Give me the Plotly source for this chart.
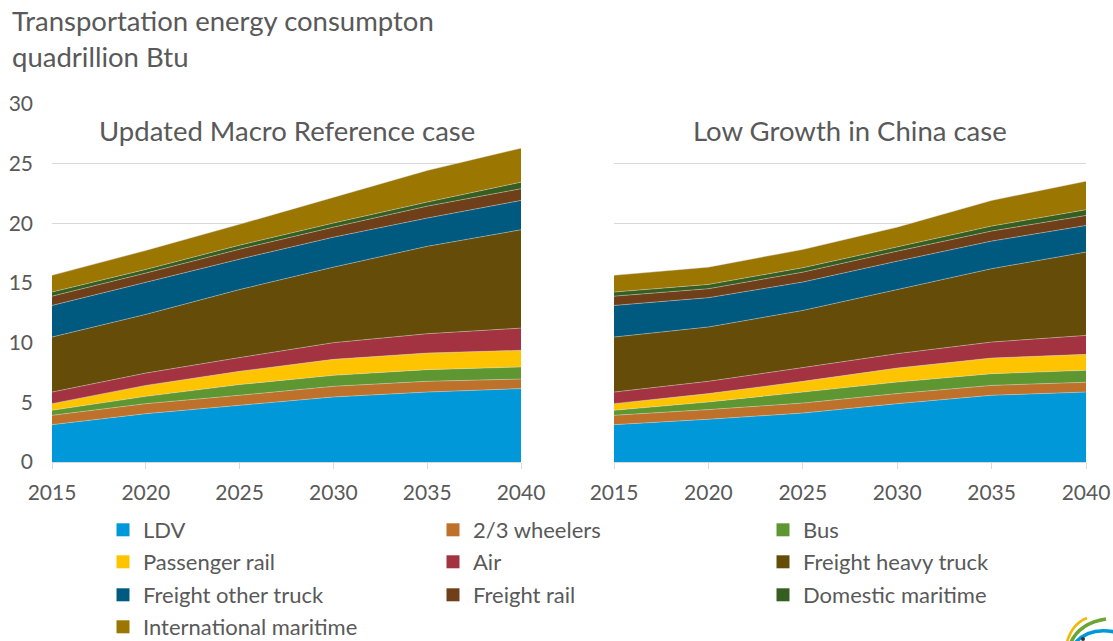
import plotly.graph_objects as go

years = [2015, 2020, 2025, 2030, 2035, 2040]

series_names = ["LDV", "2/3 wheelers", "Bus", "Passenger rail", "Air",
                "Freight heavy truck", "Freight other truck", "Freight rail",
                "Domestic maritime", "International maritime"]

colors = ["#0098D8", "#BD712B", "#5E9732", "#FFC400", "#A33340",
          "#654C08", "#005A7F", "#6F3F1A", "#355E20", "#9B7600"]

# Updated Macro Reference case (quadrillion Btu)
ref_ldv = [3.13, 4.05, 4.75, 5.45, 5.86, 6.15]
ref_wheelers = [0.78, 0.84, 0.84, 0.89, 0.90, 0.80]
ref_bus = [0.42, 0.61, 0.90, 0.92, 0.98, 1.01]
ref_prail = [0.56, 0.92, 1.11, 1.34, 1.39, 1.40]
ref_air = [0.97, 1.03, 1.15, 1.40, 1.62, 1.86]
ref_heavy = [4.61, 4.92, 5.70, 6.33, 7.32, 8.24]
ref_other = [2.65, 2.71, 2.55, 2.51, 2.37, 2.46]
ref_frail = [0.78, 0.75, 0.83, 0.84, 1.00, 0.98]
ref_dommar = [0.34, 0.31, 0.34, 0.34, 0.34, 0.55]
ref_intmar = [1.40, 1.59, 1.75, 2.18, 2.65, 2.85]

# Low Growth in China case
low_ldv = [3.13, 3.58, 4.10, 4.89, 5.59, 5.86]
low_wheelers = [0.78, 0.81, 0.84, 0.84, 0.83, 0.82]
low_bus = [0.42, 0.64, 0.92, 0.97, 0.98, 1.00]
low_prail = [0.56, 0.70, 0.90, 1.17, 1.31, 1.34]
low_air = [0.97, 1.03, 1.15, 1.21, 1.34, 1.59]
low_heavy = [4.61, 4.55, 4.79, 5.36, 6.15, 6.98]
low_other = [2.65, 2.46, 2.38, 2.39, 2.31, 2.23]
low_frail = [0.78, 0.75, 0.83, 0.84, 0.84, 0.84]
low_dommar = [0.34, 0.36, 0.37, 0.33, 0.42, 0.48]
low_intmar = [1.40, 1.45, 1.53, 1.68, 2.15, 2.39]

ref_data = [ref_ldv, ref_wheelers, ref_bus, ref_prail, ref_air,
            ref_heavy, ref_other, ref_frail, ref_dommar, ref_intmar]
low_data = [low_ldv, low_wheelers, low_bus, low_prail, low_air,
            low_heavy, low_other, low_frail, low_dommar, low_intmar]

# legend rows, three entries per row
legend_rows = [["LDV", "2/3 wheelers", "Bus"],
               ["Passenger rail", "Air", "Freight heavy truck"],
               ["Freight other truck", "Freight rail", "Domestic maritime"],
               ["International maritime"]]

W, H = 1113, 660  # page is 641 tall; extra room keeps the last legend row inside the paper
grey = "#595959"
font_family = "Lato, 'Open Sans', sans-serif"
sep_line = dict(width=0.6, color="rgba(220,220,220,0.7)")


def px(x):
    return x / W


def py(y):
    return 1 - y / H


fig = go.Figure()

for name, col, vals in zip(series_names, colors, ref_data):
    fig.add_trace(go.Scatter(x=years, y=vals, name=name, stackgroup="ref",
                             mode="lines", line=sep_line, fillcolor=col,
                             xaxis="x", yaxis="y", showlegend=False))

for name, col, vals in zip(series_names, colors, low_data):
    fig.add_trace(go.Scatter(x=years, y=vals, name=name, stackgroup="low",
                             mode="lines", line=sep_line, fillcolor=col,
                             xaxis="x2", yaxis="y2", showlegend=False))

# square swatches for the legend, one legend per row
legend_ids = ["legend", "legend2", "legend3", "legend4"]
for row_i, row in enumerate(legend_rows):
    for name in row:
        col = colors[series_names.index(name)]
        fig.add_trace(go.Scatter(x=[None], y=[None], name=name, mode="markers",
                                 marker=dict(symbol="square", size=13, color=col),
                                 xaxis="x", yaxis="y", legend=legend_ids[row_i]))

axis_common = dict(range=[2015, 2040], tickvals=years, showgrid=False,
                   showline=True, linecolor="#D9D9D9", linewidth=1,
                   ticks="outside", ticklen=6, tickcolor="#D9D9D9",
                   ticklabelstandoff=6,
                   tickfont=dict(size=21, color=grey, family=font_family),
                   automargin=False, fixedrange=True)
yaxis_common = dict(range=[0, 30], dtick=5, showgrid=True, gridcolor="#D9D9D9",
                    gridwidth=1, zeroline=False, showline=False,
                    tickfont=dict(size=21, color=grey, family=font_family),
                    automargin=False, fixedrange=True)

legend_common = dict(orientation="h", xanchor="left", yanchor="middle",
                     font=dict(size=22, color=grey, family=font_family),
                     entrywidth=285, entrywidthmode="pixels", itemwidth=30,
                     traceorder="normal", bgcolor="rgba(0,0,0,0)")
row_y = [530, 562, 595, 627]

layout_legends = {}
for lid, yy in zip(legend_ids, row_y):
    layout_legends[lid] = dict(x=px(103), y=py(yy), **legend_common)

# corner logo
logo = [
    ("#F2B705", 2.5, [(1067, 642), (1072, 624), (1087, 618)]),
    ("#6AA535", 3.5, [(1071, 642), (1080, 623), (1106, 619)]),
    ("#0098D8", 3.5, [(1076, 642), (1090, 627), (1115, 632)]),
]
shapes = []
for col, wid, pts in logo:
    (x0, y0), (xc, yc), (x1, y1) = pts
    shapes.append(dict(type="path", xref="paper", yref="paper",
                       path=f"M {px(x0)} {py(y0)} Q {px(xc)} {py(yc)} {px(x1)} {py(y1)}",
                       line=dict(color=col, width=wid)))
shapes.append(dict(type="circle", xref="paper", yref="paper",
                   x0=px(1081), x1=px(1085), y0=py(641), y1=py(637),
                   fillcolor="#333333", line=dict(width=0)))

fig.update_layout(
    width=W, height=H,
    margin=dict(l=0, r=0, t=0, b=0),
    paper_bgcolor="white", plot_bgcolor="white",
    font=dict(family=font_family, color=grey),
    xaxis=dict(domain=[px(52), px(521)], **axis_common),
    xaxis2=dict(domain=[px(614), px(1086)], **axis_common),
    yaxis=dict(domain=[py(462), py(104)], anchor="x", ticklabelstandoff=18, **yaxis_common),
    yaxis2=dict(domain=[py(462), py(104)], anchor="x2", showticklabels=False, **yaxis_common),
    showlegend=True,
    shapes=shapes,
    annotations=[
        dict(text="Transportation energy consumpton<br>quadrillion Btu", x=px(10), y=py(2),
             xref="paper", yref="paper", xanchor="left", yanchor="top", align="left",
             showarrow=False, font=dict(size=27.5, color=grey, family=font_family)),
        dict(text="Updated Macro Reference case", x=px(286.5), y=py(130),
             xref="paper", yref="paper", xanchor="center", yanchor="middle",
             showarrow=False, font=dict(size=27.5, color=grey, family=font_family)),
        dict(text="Low Growth in China case", x=px(850), y=py(130),
             xref="paper", yref="paper", xanchor="center", yanchor="middle",
             showarrow=False, font=dict(size=27.5, color=grey, family=font_family)),
    ],
    **layout_legends,
)

fig.write_html("out.html", config={"displayModeBar": False},
               post_script="document.body.style.margin='0px';document.body.style.overflow='hidden';")
